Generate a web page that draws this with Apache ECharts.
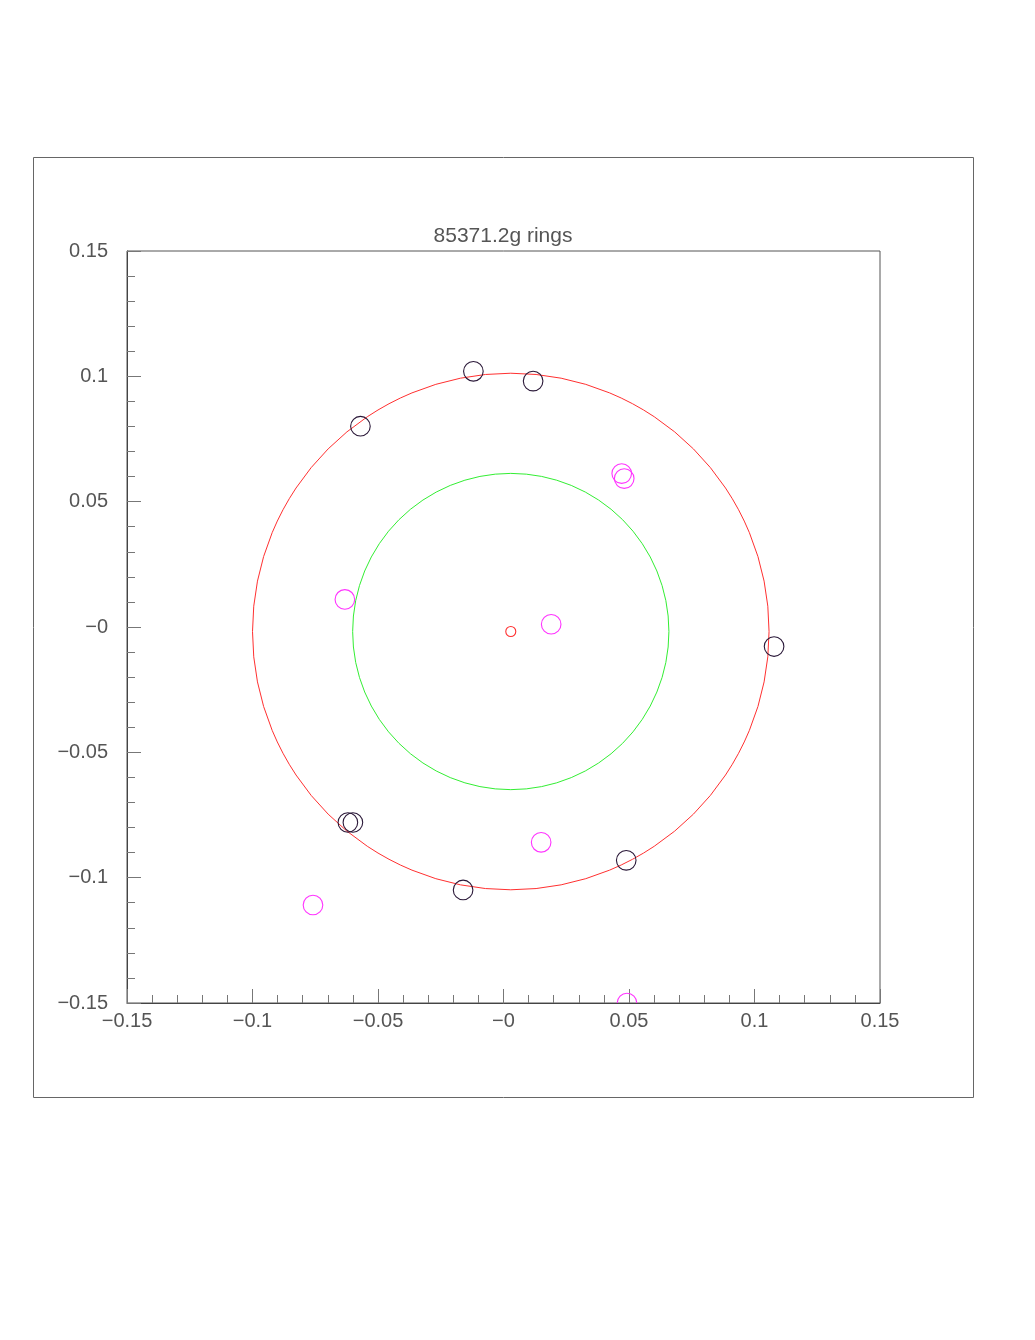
<!DOCTYPE html>
<html>
<head>
<meta charset="utf-8">
<script src="https://cdn.jsdelivr.net/npm/echarts@6/dist/echarts.min.js"></script>
<style>
html,body{margin:0;padding:0;background:#fff;}
#chart{width:1035px;height:1340px;}
</style>
</head>
<body>
<div id="chart"></div>
<script>
// ---- data ----
const titleText = '85371.2g rings';
const tickLabels = ['\u22120.15', '\u22120.1', '\u22120.05', '\u22120', '0.05', '0.1', '0.15'];
const axisMin = -0.15, axisMax = 0.15, axisStep = 0.05;

// dark hit circles [x, y]
const darkHits = [
  [-0.0120, 0.1020], [0.0118, 0.0981], [-0.0570, 0.0801], [0.1078, -0.0078],
  [-0.0620, -0.0780], [-0.0600, -0.0780], [0.0489, -0.0931], [-0.0161, -0.1049]
];
// magenta hit circles [x, y]
const magentaHits = [
  [0.0471, 0.0612], [0.0481, 0.0592], [-0.0632, 0.0110], [0.0190, 0.0011],
  [0.0150, -0.0859], [-0.0759, -0.1109], [0.0492, -0.1500]
];
// fitted rings [cx, cy, r]
const redRing = [0.0029, -0.0018, 0.1029];
const greenRing = [0.0029, -0.0018, 0.0630];
const centerMark = [[0.0029, -0.0018]];

// ---- chart ----
const chart = echarts.init(document.getElementById('chart'), null, {renderer: 'canvas'});
const font = 'Liberation Sans, Arial, sans-serif';

function ringSeries(ring, color) {
  return {
    type: 'custom',
    coordinateSystem: 'cartesian2d',
    data: [ring],
    clip: true,
    silent: true,
    z: 2,
    renderItem: function (params, api) {
      const c = api.coord([api.value(0), api.value(1)]);
      const r = api.size([api.value(2), 0])[0];
      return {
        type: 'circle',
        shape: {cx: c[0], cy: c[1], r: r},
        style: {fill: 'none', stroke: color, lineWidth: 1}
      };
    }
  };
}

function markerSeries(points, color, radiusPx) {
  return {
    type: 'custom',
    coordinateSystem: 'cartesian2d',
    data: points,
    clip: true,
    silent: true,
    z: 4,
    renderItem: function (params, api) {
      const c = api.coord([api.value(0), api.value(1)]);
      return {
        type: 'circle',
        shape: {cx: c[0], cy: c[1], r: radiusPx},
        style: {fill: 'none', stroke: color, lineWidth: 1.1}
      };
    }
  };
}

function labelFor(v) {
  const i = Math.round((v - axisMin) / axisStep);
  return tickLabels[i] !== undefined ? tickLabels[i] : '';
}

const axisCommon = {
  type: 'value',
  min: axisMin, max: axisMax, interval: axisStep,
  axisLine: {show: true, onZero: false, lineStyle: {color: '#444', width: 1}},
  axisTick: {show: true, inside: true, length: 14, lineStyle: {color: '#777', width: 1}},
  minorTick: {show: true, splitNumber: 5, length: 8, lineStyle: {color: '#777', width: 1}},
  splitLine: {show: false},
  minorSplitLine: {show: false},
  axisLabel: {
    color: '#555', fontFamily: font, fontSize: 20,
    formatter: labelFor, showMinLabel: true, showMaxLabel: true
  }
};

chart.setOption({
  animation: false,
  backgroundColor: '#fff',
  graphic: [{
    type: 'rect',
    shape: {x: 33.5, y: 157.5, width: 940, height: 940},
    style: {fill: 'none', stroke: '#666', lineWidth: 1},
    z: -1
  }, {
    type: 'text',
    x: 503, y: 236,
    style: {
      text: titleText, fill: '#555', font: '21px ' + font,
      textAlign: 'center', textVerticalAlign: 'middle'
    },
    z: 5
  }],
  grid: {
    left: 127, top: 251, width: 753, height: 752,
    show: true, borderColor: '#555', borderWidth: 1, backgroundColor: 'transparent'
  },
  xAxis: Object.assign({}, axisCommon, {
    position: 'bottom',
    axisLabel: Object.assign({}, axisCommon.axisLabel, {margin: 8})
  }),
  yAxis: Object.assign({}, axisCommon, {
    position: 'left',
    axisLabel: Object.assign({}, axisCommon.axisLabel, {margin: 19})
  }),
  series: [
    ringSeries(redRing, '#ff3030'),
    ringSeries(greenRing, '#33ee33'),
    markerSeries(centerMark, '#ff3030', 5),
    markerSeries(darkHits, '#2a1838', 9.8),
    markerSeries(magentaHits, '#ff33ff', 9.8)
  ]
});
</script>
</body>
</html>
